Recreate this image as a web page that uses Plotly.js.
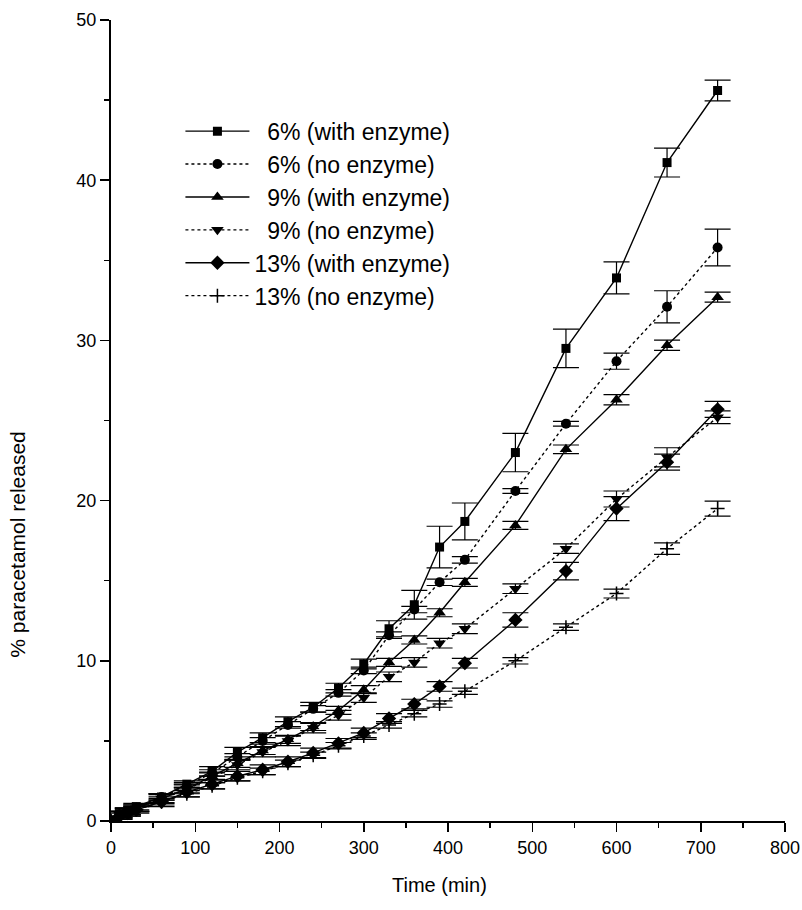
<!DOCTYPE html>
<html>
<head>
<meta charset="utf-8">
<script src="https://cdn.plot.ly/plotly-3.0.1.min.js"></script>
<style>html,body{margin:0;padding:0;background:#fff;}#chart{width:802px;height:910px;}</style>
</head>
<body>
<div id="chart"></div>
<script>
// Time points (min)
var timeMin = [0, 10, 20, 30, 60, 90, 120, 150, 180, 210, 240, 270, 300, 330, 360, 390, 420, 480, 540, 600, 660, 720];

// % paracetamol released
var pct6With  = [0, 0.4, 0.6, 0.9, 1.5, 2.3, 3.1, 4.3, 5.2, 6.2, 7.1, 8.3, 9.8, 12.0, 13.5, 17.1, 18.7, 23.0, 29.5, 33.9, 41.1, 45.6];
var pct6No    = [0, 0.4, 0.6, 0.8, 1.5, 2.2, 3.0, 4.0, 5.0, 6.0, 7.0, 8.0, 9.4, 11.6, 13.2, 14.9, 16.3, 20.6, 24.8, 28.7, 32.1, 35.8];
var pct9With  = [0, 0.4, 0.6, 0.8, 1.4, 2.0, 2.8, 3.6, 4.4, 5.1, 5.9, 6.9, 8.2, 9.9, 11.3, 13.0, 14.9, 18.45, 23.2, 26.3, 29.7, 32.7];
var pct9No    = [0, 0.4, 0.6, 0.8, 1.4, 2.0, 2.7, 3.5, 4.3, 5.0, 5.8, 6.6, 7.7, 9.0, 9.9, 11.1, 12.0, 14.5, 17.0, 20.1, 22.7, 25.2];
var pct13With = [0, 0.3, 0.5, 0.7, 1.2, 1.8, 2.3, 2.8, 3.2, 3.7, 4.25, 4.85, 5.5, 6.4, 7.3, 8.4, 9.85, 12.55, 15.6, 19.5, 22.4, 25.7];
var pct13No   = [0, 0.3, 0.5, 0.7, 1.2, 1.7, 2.2, 2.7, 3.1, 3.6, 4.1, 4.7, 5.3, 6.0, 6.7, 7.3, 8.1, 10.0, 12.1, 14.2, 17.0, 19.5];

// error bar half-widths
var err6With  = [0.1, 0.2, 0.2, 0.2, 0.2, 0.2, 0.3, 0.3, 0.3, 0.3, 0.3, 0.3, 0.3, 0.5, 0.9, 1.3, 1.15, 1.2, 1.2, 1.0, 0.9, 0.65];
var err6No    = [0.1, 0.2, 0.2, 0.2, 0.2, 0.2, 0.2, 0.2, 0.2, 0.2, 0.2, 0.2, 0.2, 0.2, 0.2, 0.2, 0.2, 0.15, 0.15, 0.5, 1.0, 1.15];
var err9With  = [0.1, 0.2, 0.2, 0.2, 0.25, 0.25, 0.25, 0.25, 0.25, 0.25, 0.25, 0.25, 0.25, 0.25, 0.25, 0.25, 0.25, 0.25, 0.27, 0.32, 0.32, 0.31];
var err9No    = [0.1, 0.2, 0.2, 0.2, 0.3, 0.3, 0.3, 0.3, 0.3, 0.3, 0.3, 0.3, 0.3, 0.3, 0.3, 0.3, 0.3, 0.3, 0.3, 0.5, 0.6, 0.4];
var err13With = [0.1, 0.2, 0.2, 0.2, 0.3, 0.3, 0.3, 0.3, 0.3, 0.3, 0.3, 0.3, 0.3, 0.3, 0.3, 0.3, 0.3, 0.45, 0.55, 0.75, 0.5, 0.5];
var err13No   = [0.1, 0.2, 0.2, 0.2, 0.2, 0.2, 0.2, 0.2, 0.2, 0.2, 0.2, 0.2, 0.2, 0.2, 0.2, 0.2, 0.2, 0.2, 0.2, 0.28, 0.36, 0.47];

// legend labels (figure space keeps the digits right-aligned as in the original)
var seriesNames = ['\u20076% (with enzyme)', '\u20076% (no enzyme)', '\u20079% (with enzyme)', '\u20079% (no enzyme)', '13% (with enzyme)', '13% (no enzyme)'];
var seriesValues = [pct6With, pct6No, pct9With, pct9No, pct13With, pct13No];
var seriesErrors = [err6With, err6No, err9With, err9No, err13With, err13No];
var symbols = ['square', 'circle', 'triangle-up', 'triangle-down', 'diamond', 'cross-thin'];
var dashes = ['solid', 'dot', 'solid', 'dot', 'solid', 'dot'];
var sizes = [9, 10, 11, 11, 11, 10];

var traces = seriesNames.map(function (name, i) {
  return {
    type: 'scatter',
    mode: 'lines+markers',
    name: name,
    legendgroup: 'g' + i,
    x: timeMin,
    y: seriesValues[i],
    error_y: { type: 'data', array: seriesErrors[i], visible: true, color: '#000', thickness: 1.2, width: 13 },
    line: { color: '#000', width: 1.4, dash: dashes[i] },
    marker: { symbol: symbols[i], size: sizes[i], color: '#000', line: { color: '#000', width: symbols[i] === 'cross-thin' ? 1.5 : 0 } }
  };
});

var fam = 'Liberation Sans, Arial, sans-serif';
var axisFont = { family: fam, size: 18, color: '#000' };

var layout = {
  width: 802,
  height: 910,
  margin: { l: 111, r: 17, t: 20, b: 89 },
  font: { family: fam, size: 18, color: '#000' },
  paper_bgcolor: '#fff',
  plot_bgcolor: '#fff',
  showlegend: true,
  legend: {
    x: 0.103, y: 0.888, xanchor: 'left', yanchor: 'top',
    font: { family: fam, size: 23, color: '#000' },
    bgcolor: 'rgba(0,0,0,0)',
    traceorder: 'grouped',
    tracegroupgap: 0,
    itemwidth: 64
  },
  xaxis: {
    range: [0, 800], dtick: 100, showgrid: false, zeroline: false,
    showline: true, linecolor: '#000', linewidth: 2,
    ticks: 'outside', ticklen: 9, tickwidth: 1.5, tickcolor: '#000',
    minor: { dtick: 50, ticks: 'outside', ticklen: 5, tickwidth: 1.5, tickcolor: '#000' },
    tickfont: axisFont
  },
  yaxis: {
    range: [0, 50], dtick: 10, showgrid: false, zeroline: false,
    showline: true, linecolor: '#000', linewidth: 2,
    ticks: 'outside', ticklen: 9, tickwidth: 1.5, tickcolor: '#000',
    minor: { dtick: 5, ticks: 'outside', ticklen: 5, tickwidth: 1.5, tickcolor: '#000' },
    tickfont: axisFont
  },
  annotations: [
    { text: 'Time (min)', xref: 'paper', yref: 'paper', x: 0.488, y: 0, xanchor: 'center', yanchor: 'middle',
      yshift: -64, showarrow: false, font: { family: fam, size: 20, color: '#000' } },
    { text: '% paracetamol released', xref: 'paper', yref: 'paper', x: 0, y: 0.345, xanchor: 'center', yanchor: 'middle',
      xshift: -93, textangle: -90, showarrow: false, font: { family: fam, size: 21, color: '#000' } }
  ]
};

Plotly.newPlot('chart', traces, layout, { displayModeBar: false, staticPlot: true });
</script>
</body>
</html>
